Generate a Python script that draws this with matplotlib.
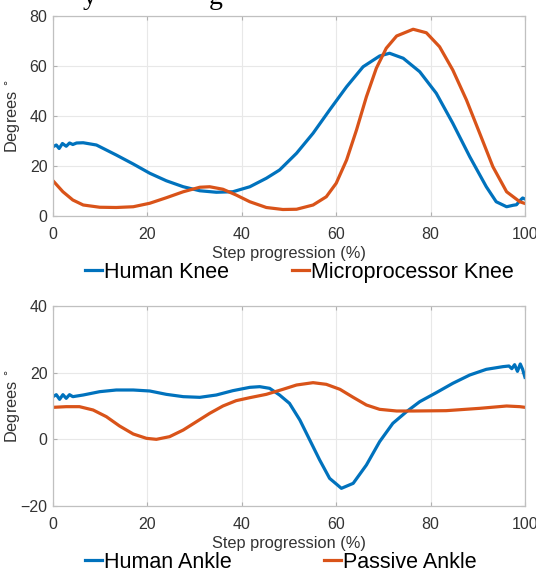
#! /usr/bin/env python3
# coding: utf-8

import matplotlib
matplotlib.use("Agg")
import matplotlib.pyplot as plt

plt.rcParams["font.family"] = ["Liberation Sans", "DejaVu Sans"]

BLUE = "#0072BD"
ORANGE = "#D95319"

# knee angles (degrees) vs step progression (%)
human_knee_x = [0, 0.7, 1.3, 2.0, 2.8, 3.5, 4.2, 5.0, 6.4, 9.2, 13.4, 17.0, 20.5, 24.0, 27.6, 31.1,
                34.6, 38.1, 41.7, 45.2, 48.0, 51.6, 55.1, 58.6, 62.2, 65.7, 69.2, 71.3, 74.2, 77.7,
                81.2, 84.7, 88.3, 91.8, 93.9, 96.1, 97.5, 98.2, 98.9, 99.5, 100]
human_knee_y = [27.7, 28.4, 27.0, 29.0, 27.9, 29.2, 28.6, 29.2, 29.3, 28.4, 24.4, 20.8, 17.1, 14.1,
                11.7, 10.1, 9.5, 9.7, 11.7, 15.1, 18.4, 25.1, 33.1, 42.4, 51.7, 59.7, 64.0, 65.1,
                63.1, 57.7, 49.1, 37.1, 23.7, 11.7, 5.7, 3.7, 4.3, 4.5, 6.1, 7.2, 6.8]

micro_knee_x = [0, 2.1, 4.2, 6.4, 9.9, 13.4, 17.0, 20.5, 24.0, 27.6, 31.1, 33.2, 36.0, 38.8, 41.7,
                45.2, 48.7, 51.6, 55.1, 57.9, 60.0, 62.2, 64.3, 66.4, 68.5, 70.6, 72.8, 76.3,
                79.1, 81.9, 84.7, 87.6, 90.4, 93.2, 96.1, 98.9, 100]
micro_knee_y = [14.1, 9.7, 6.4, 4.4, 3.5, 3.4, 3.7, 5.1, 7.3, 9.7, 11.5, 11.7, 10.7, 8.4, 5.7,
                3.4, 2.6, 2.7, 4.4, 7.7, 13.1, 22.4, 34.4, 47.7, 59.1, 67.1, 72.0, 74.7, 73.3,
                67.7, 58.4, 46.4, 33.1, 19.7, 9.7, 5.7, 5.0]

# ankle angles (degrees) vs step progression (%)
human_ankle_x = [0, 0.7, 1.4, 2.1, 2.8, 3.5, 4.2, 6.4, 9.9, 13.4, 17.0, 20.5, 24.0, 27.6, 31.1,
                 34.6, 38.1, 41.7, 43.8, 45.9, 48.0, 50.1, 52.3, 54.4, 56.5, 58.6, 61.1, 63.6,
                 66.4, 69.2, 72.0, 74.9, 77.7, 81.2, 84.7, 88.3, 91.8, 95.3, 96.6, 97.2, 97.8,
                 98.4, 99.0, 99.5, 100]
human_ankle_y = [12.8, 13.4, 12.0, 13.4, 12.3, 13.4, 12.8, 13.3, 14.3, 14.8, 14.8, 14.5, 13.5,
                 12.8, 12.6, 13.3, 14.6, 15.6, 15.8, 15.3, 13.3, 10.8, 5.8, -0.2, -6.2, -11.7,
                 -14.7, -13.2, -7.7, -0.7, 4.8, 8.3, 11.3, 14.0, 16.8, 19.3, 21.0, 21.8, 22.0,
                 21.2, 22.4, 20.4, 22.6, 21.0, 18.6]

passive_ankle_x = [0, 2.8, 5.6, 8.5, 11.3, 14.1, 17.0, 19.8, 21.9, 24.7, 27.6, 30.4, 33.2, 36.0,
                   38.8, 41.7, 45.2, 48.7, 51.6, 55.1, 57.9, 60.8, 63.6, 66.4, 69.2, 72.8, 76.3,
                   83.3, 90.4, 96.1, 98.9, 100]
passive_ankle_y = [9.6, 9.8, 9.8, 8.8, 6.8, 4.0, 1.6, 0.3, 0.0, 0.8, 2.8, 5.3, 7.8, 10.0, 11.6,
                   12.5, 13.5, 15.0, 16.3, 17.0, 16.5, 15.0, 12.6, 10.3, 9.0, 8.5, 8.5, 8.6, 9.3,
                   10.0, 9.8, 9.6]

panels = [
    (human_knee_x, human_knee_y, micro_knee_x, micro_knee_y,
     ["Human Knee", "Microprocessor Knee"], (0, 80), [0, 20, 40, 60, 80], 2.9),
    (human_ankle_x, human_ankle_y, passive_ankle_x, passive_ankle_y,
     ["Human Ankle", "Passive Ankle"], (-20, 40), [-20, 0, 20, 40], 4.25),
]

fig = plt.figure(figsize=(5.36, 5.69), dpi=100)
ax_top = fig.add_axes([53 / 536, 1 - 216 / 569, 472 / 536, 200 / 569])
ax_bot = fig.add_axes([53 / 536, 1 - 506 / 569, 472 / 536, 200 / 569])

for ax, (x1, y1, x2, y2, names, ylim, yticks, colsp) in zip([ax_top, ax_bot], panels):
    ax.plot(x1, y1, color=BLUE, lw=2.3, label=names[0])
    ax.plot(x2, y2, color=ORANGE, lw=2.3, label=names[1])
    ax.set_xlim(0, 100)
    ax.set_ylim(*ylim)
    ax.set_xticks([0, 20, 40, 60, 80, 100])
    ax.set_yticks(yticks)
    ax.grid(True, color="#e8e8e8", lw=0.8)
    ax.tick_params(direction="in", length=3, colors="#b0b0b0", labelcolor="#333333",
                   labelsize=11.5, top=True, right=True)
    ax.tick_params(axis="x", pad=8)
    ax.tick_params(axis="y", pad=4)
    for s in ax.spines.values():
        s.set_color("#c0c0c0")
        s.set_linewidth(0.9)
    ax.set_xlabel("Step progression (%)", fontsize=11.8, color="#333333", labelpad=3)
    ax.set_ylabel(r"Degrees $^{\circ}$", fontsize=11.8, color="#333333")
    ax.yaxis.set_label_coords(-0.066, 0.5)
    ax.legend(loc="center left", bbox_to_anchor=(0.068, -0.2825), ncol=2, frameon=False,
              fontsize=15.5, handlelength=0.8, handletextpad=0.1, columnspacing=colsp,
              borderaxespad=0, borderpad=0)

# clipped caption fragment at the very top
fig.text(0.155, 1.005, "y", family="Liberation Serif", fontsize=20, va="center")
fig.text(0.39, 1.005, "g", family="Liberation Serif", fontsize=20, va="center")

fig.savefig("out.png", dpi=100)
